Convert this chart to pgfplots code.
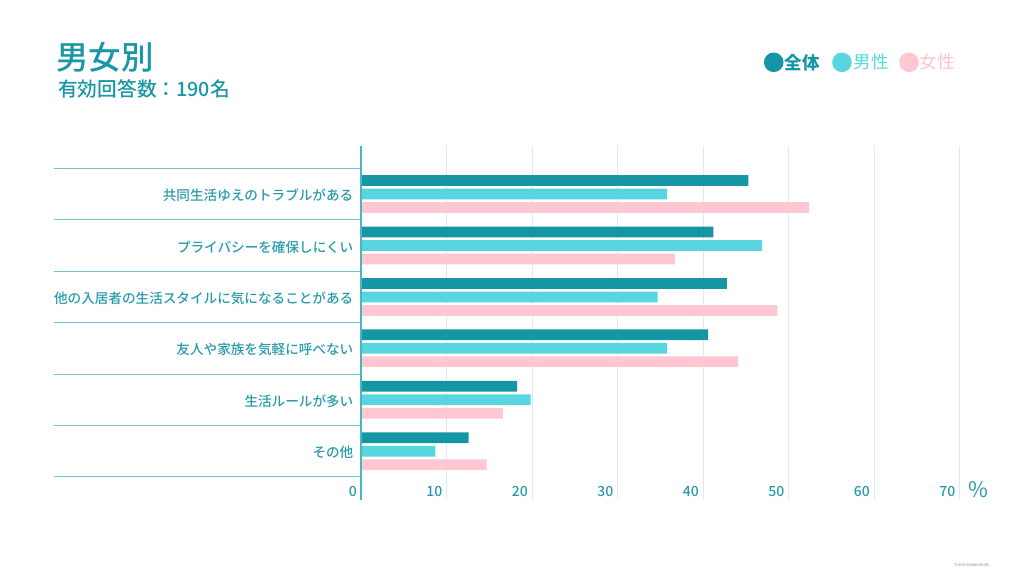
\documentclass[border=0pt]{standalone}
\usepackage{pgfplots}
\pgfplotsset{compat=1.18}
\usepackage{fontspec}
\setmainfont{Noto Sans CJK JP}
\newfontfamily\medfont{Noto Sans CJK JP}[UprightFont={* Medium}]
\definecolor{cAll}{HTML}{1496A5}
\definecolor{cMale}{HTML}{59D5DF}
\definecolor{cFemale}{HTML}{FFC7D1}
\definecolor{cText}{HTML}{2A9BAA}
\definecolor{cTitle}{HTML}{1A97A5}
\definecolor{cSep}{HTML}{6EC5CE}
\definecolor{cGrid}{HTML}{D8EEF2}
\definecolor{cAxis}{HTML}{4CB4C2}
\definecolor{cMaleTxt}{HTML}{52DDD5}
\definecolor{cFemTxt}{HTML}{FFC2CD}
\begin{document}
\begin{tikzpicture}[x=1pt,y=1pt]
\useasboundingbox (0,0) rectangle (1024,-575);
\begin{axis}[
  at={(361pt,-499.5pt)}, anchor=south west,
  scale only axis, width=641.25pt, height=353pt,
  xmin=0, xmax=75, ymin=-5.94, ymax=0.925,
  clip=false,
  axis line style={draw=none},
  tick style={draw=none}, major tick length=0pt,
  xtick={0,10,...,70},
  xmajorgrids, grid style={cGrid, line width=1pt},
  /pgf/number format/assume math mode=true,
  xticklabel style={anchor=base east, inner sep=0pt, xshift=-4pt, yshift=3.5pt,
    font=\medfont\fontsize{14}{14}\selectfont, text=cText},
  ytick={0,-1,-2,-3,-4,-5},
  yticklabels={共同生活ゆえのトラブルがある, プライバシーを確保しにくい, 他の入居者の生活スタイルに気になることがある, 友人や家族を気軽に呼べない, 生活ルールが多い, その他},
  yticklabel style={anchor=east, inner sep=0pt, xshift=-7.5pt, yshift=-1.5pt,
    font=\medfont\fontsize{13.6}{13.6}\selectfont, text=cText},
]
\addplot[xbar, bar width=10.7pt, bar shift=13.5pt, fill=cAll, draw=none]
  coordinates {(45.3,0) (41.2,-1) (42.8,-2) (40.6,-3) (18.25,-4) (12.6,-5)};
\addplot[xbar, bar width=10.7pt, bar shift=0pt, fill=cMale, draw=none]
  coordinates {(35.8,0) (46.9,-1) (34.7,-2) (35.8,-3) (19.85,-4) (8.7,-5)};
\addplot[xbar, bar width=10.7pt, bar shift=-13.5pt, fill=cFemale, draw=none]
  coordinates {(52.4,0) (36.7,-1) (48.7,-2) (44.1,-3) (16.6,-4) (14.7,-5)};
\pgfplotsinvokeforeach{0,...,6}{
  \draw[cSep, line width=1pt] (axis cs:0,{0.5-#1}) -- ++(-307pt,0pt);
}
\draw[cAxis, line width=1.5pt] (rel axis cs:0,0) -- (rel axis cs:0,1);
\end{axis}
% titles
\node[anchor=base west, inner sep=0pt, text=cTitle, font=\medfont\fontsize{32.5}{32.5}\selectfont] at (56,-69.5) {男女別};
\node[anchor=base west, inner sep=0pt, text=cTitle, font=\medfont\fontsize{19.7}{19.7}\selectfont] at (58,-96.5) {有効回答数：190名};
% legend
\fill[cAll] (773.7,-62.3) circle (9.8);
\node[anchor=west, inner sep=0pt, text=cAll, font=\fontsize{17.5}{17.5}\selectfont\bfseries] at (784.5,-62.3) {全体};
\fill[cMale] (842,-62.3) circle (9.8);
\node[anchor=west, inner sep=0pt, text=cMaleTxt, font=\fontsize{17.5}{17.5}\selectfont] at (853.5,-62.3) {男性};
\fill[cFemale] (909,-62.3) circle (9.8);
\node[anchor=west, inner sep=0pt, text=cFemTxt, font=\fontsize{17.5}{17.5}\selectfont] at (919.5,-62.3) {女性};
% percent sign
\node[anchor=base west, inner sep=0pt, text=cText, font=\fontsize{21.5}{21.5}\selectfont] at (968,-497.5) {\%};
% watermark
\node[anchor=west, inner sep=0pt, text=gray, font=\fontsize{3.5}{3.5}\selectfont] at (954,-565) {TOKYO SHAREHOUSE};
\end{tikzpicture}
\end{document}
